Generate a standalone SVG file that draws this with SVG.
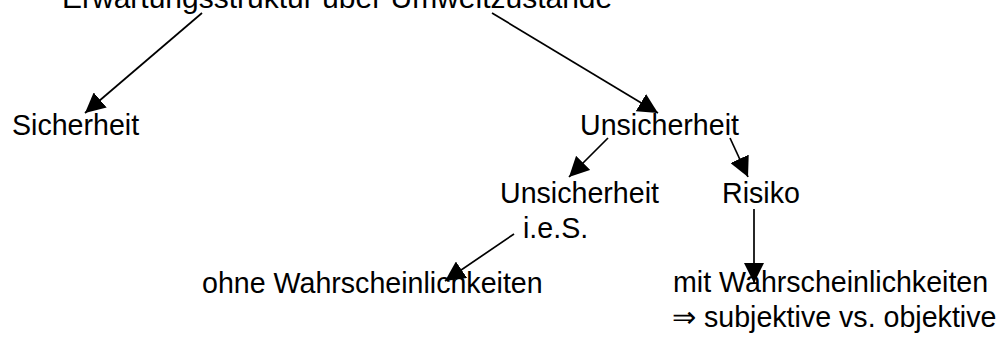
<svg xmlns="http://www.w3.org/2000/svg" width="1006" height="342" viewBox="0 0 1006 342">
<style>
text{font-family:"Liberation Sans",Arial,sans-serif;font-size:28.6px;fill:#000}
.c line{stroke:#000;stroke-width:1.7;fill:none}
</style>
<defs>
<marker id="ah" markerUnits="userSpaceOnUse" markerWidth="21" markerHeight="20" refX="20" refY="10" orient="auto" viewBox="0 0 21 20">
<path d="M0,0 L20,10 L0,20 z" fill="#000"/>
</marker>
</defs>
<rect width="1006" height="342" fill="#fff"/>
<g id="root"><text x="62" y="8" style="font-size:30px">Erwartungsstruktur über Umweltzustände</text></g>
<g id="sicherheit"><text x="12" y="135">Sicherheit</text></g>
<g id="unsicherheit"><text x="580" y="135">Unsicherheit</text></g>
<g id="unsicherheit-ies"><text x="500" y="203">Unsicherheit</text><text x="523" y="238">i.e.S.</text></g>
<g id="risiko"><text x="722" y="203">Risiko</text></g>
<g id="ohne"><text x="202" y="293">ohne Wahrscheinlichkeiten</text></g>
<g id="mit"><text x="673" y="292">mit Wahrscheinlichkeiten</text><text x="672" y="327">⇒ subjektive vs. objektive</text></g>
<g class="c" id="connectors">
<line x1="202" y1="13" x2="85" y2="113" marker-end="url(#ah)"/>
<line x1="492" y1="13" x2="658" y2="113" marker-end="url(#ah)"/>
<line x1="608" y1="138" x2="569" y2="177" marker-end="url(#ah)"/>
<line x1="730" y1="138" x2="748" y2="177" marker-end="url(#ah)"/>
<line x1="754" y1="209" x2="754" y2="283" marker-end="url(#ah)"/>
<line x1="514" y1="234" x2="445" y2="281" marker-end="url(#ah)"/>
</g>
</svg>
